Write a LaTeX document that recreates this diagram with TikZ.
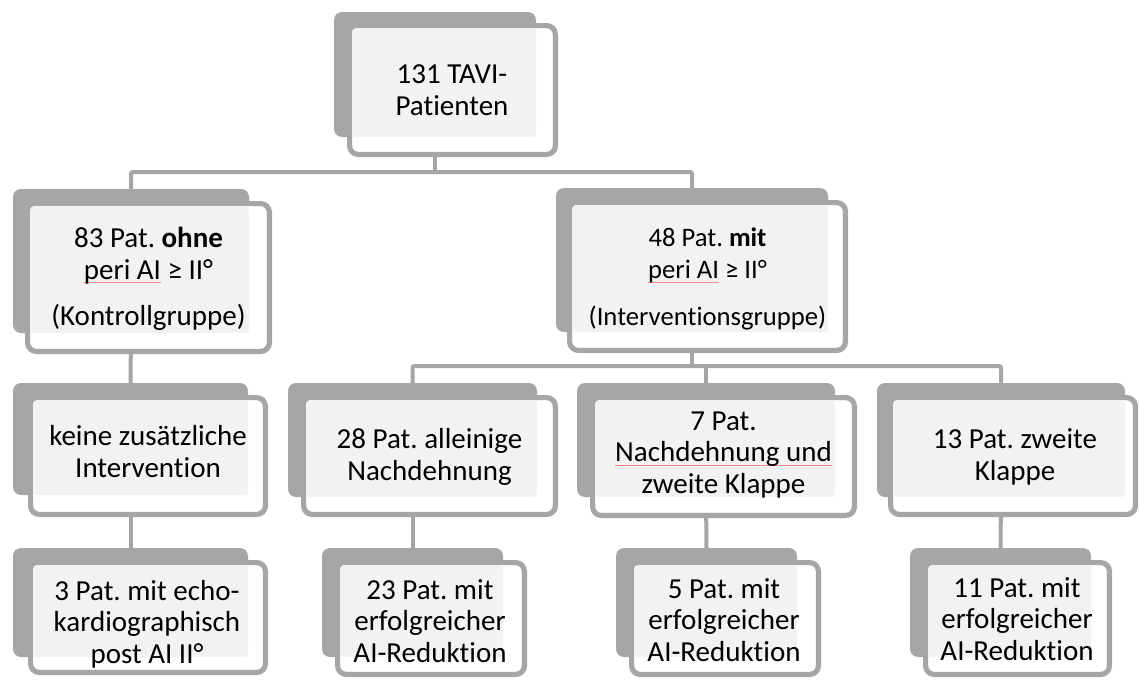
\documentclass[tikz,border=0pt]{standalone}
\usepackage{fontspec}
\setmainfont{Carlito}[Ligatures={NoCommon}]
\frenchspacing
\usetikzlibrary{fit,backgrounds}
\definecolor{boxgray}{HTML}{A6A6A6}
\definecolor{lightfill}{HTML}{F2F2F2}
\definecolor{spellred}{HTML}{F08C8C}
\newcommand\spellmark[1]{\setbox0\hbox{#1}\rlap{\color{spellred}\rule[-3.2pt]{\wd0}{0.6pt}}\box0}
\tikzset{
  shadowbox/.style={rectangle, fill=boxgray, rounded corners=6pt, inner sep=0pt, outer sep=0pt},
  framebox/.style={rectangle, fill=white, draw=boxgray, line width=3.9pt, rounded corners=6.5pt, inner sep=0pt, outer sep=0pt},
  lightbox/.style={rectangle, fill=lightfill, rounded corners=2.5pt, inner sep=0pt, outer sep=0pt},
  boxtext/.style={align=center, inner sep=0pt, anchor=base, font=\fontsize{21.75pt}{23.5pt}\selectfont},
  conn/.style={draw=boxgray, line width=3pt, rounded corners=1.5pt}
}
% name, shadow x1 y1 x2 y2, frame x1 y1 x2 y2 (px, y downwards)
\newcommand\hierbox[9]{%
  \node[shadowbox, fit={(#2,#3) (#4,#5)}] (#1s) {};
  \node[framebox, fit={({#6+2.6},{#7+2.6}) ({#8-2.6},{#9-2.6})}] (#1f) {};
  \node[lightbox, fit={({#6+5.2},{#7+5.2}) (#4,#5)}] (#1l) {};
}
\begin{document}
\begin{tikzpicture}[x=0.75pt, y=-0.75pt]
\useasboundingbox (0,0) rectangle (1139,679);
\coordinate (bus1) at (0,172);
\coordinate (bus2) at (0,366);
\hierbox{T}{334}{12}{536}{137}{347}{23}{558}{157}
\hierbox{A}{13}{189}{249}{333}{25}{201}{272}{354}
\hierbox{B}{556}{188}{828}{332}{567}{200}{848}{353}
\hierbox{C}{13}{383}{248}{495}{28}{395}{268}{517}
\hierbox{E}{288}{383}{537}{497}{301}{395}{558}{517}
\hierbox{G}{577}{383}{835}{497}{590}{395}{857}{518}
\hierbox{H}{877}{383}{1125}{497}{888}{395}{1138}{517}
\hierbox{D}{13}{548}{248}{657}{28}{560}{268}{675}
\hierbox{F}{322}{548}{503}{657}{335}{560}{527}{677}
\hierbox{I}{616}{548}{797}{657}{629}{560}{821}{677}
\hierbox{J}{910}{548}{1091}{657}{923}{560}{1112}{677}
% texts (anchor = base of last line)
\node[boxtext] (Tt) at (452,115) {131 TAVI-\\Patienten};
\node[boxtext] (At) at (148.5,325) {83 Pat. \textbf{ohne}\\\spellmark{peri AI}\ ≥ II°\\[11pt](Kontrollgruppe)};
\node[boxtext, font=\fontsize{20pt}{24pt}\selectfont] (Bt) at (707.5,325) {48 Pat. \textbf{mit}\\\spellmark{peri AI}\ ≥ II°\\[11pt](Interventionsgruppe)};
\node[boxtext] (Ct) at (148,477) {keine zusätzliche\\Intervention};
\node[boxtext] (Et) at (429.5,480) {28 Pat. alleinige\\Nachdehnung};
\node[boxtext] (Gt) at (723.5,493) {7 Pat.\\\spellmark{Nachdehnung und}\\zweite Klappe};
\node[boxtext] (Ht) at (1015,480) {13 Pat. zweite\\Klappe};
\node[boxtext] (Dt) at (147,663) {3 Pat. mit echo-\\kardiographisch\\post AI II°};
\node[boxtext] (Ft) at (430,662) {23 Pat. mit\\erfolgreicher\\AI-Reduktion};
\node[boxtext] (It) at (724,661) {5 Pat. mit\\erfolgreicher\\AI-Reduktion};
\node[boxtext] (Jt) at (1017,660) {11 Pat. mit\\erfolgreicher\\AI-Reduktion};
% connectors behind the boxes
\begin{scope}[on background layer]
\fill[white] (0,0) rectangle (1139,679);
\draw[conn] (Ts.south) -- (Ts.south |- bus1);
\draw[conn] (As.north) |- (bus1 -| Bs.north) -- (Bs.north);
\draw[conn] (Bs.south) -- (Bs.south |- bus2);
\draw[conn] (Es.north) |- (bus2 -| Hs.north) -- (Hs.north);
\draw[conn] (Gs.north) -- (Gs.north |- bus2);
\draw[conn] (As.south) -- (Cs.north);
\draw[conn] (Cs.south) -- (Ds.north);
\draw[conn] (Es.south) -- (Fs.north);
\draw[conn] (Gs.south) -- (Is.north);
\draw[conn] (Hs.south) -- (Js.north);
\end{scope}
\end{tikzpicture}
\end{document}
